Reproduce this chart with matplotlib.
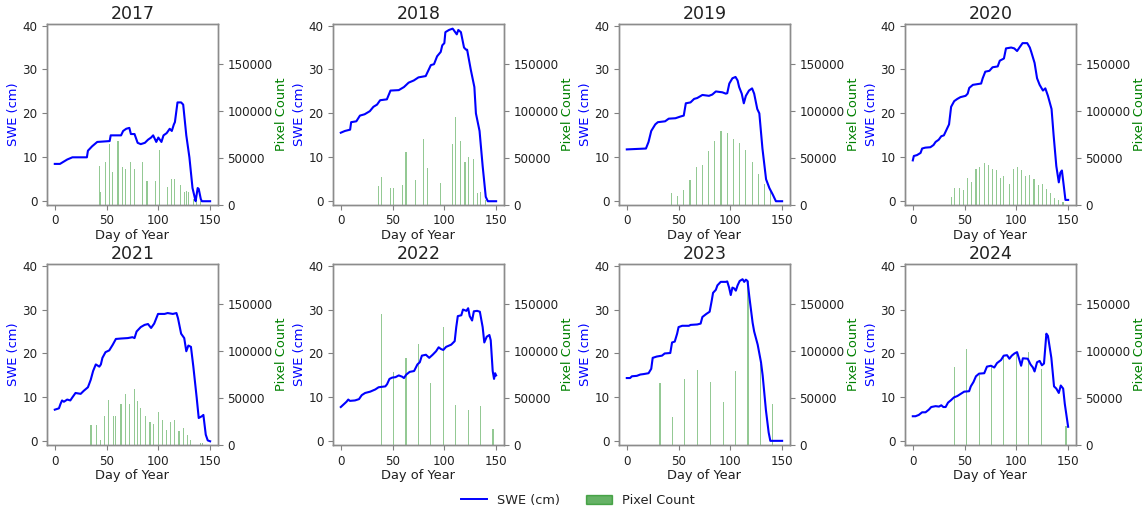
import numpy as np
import matplotlib.pyplot as plt
from matplotlib.lines import Line2D
from matplotlib.patches import Patch

years = [2017, 2018, 2019, 2020, 2021, 2022, 2023, 2024]

# --- SWE (cm) by day of year ---
days_2017 = [0, 5, 12, 17, 31, 32, 36, 41, 53, 54, 64, 66, 69, 72, 73.5, 77, 80, 83, 87, 90, 93, 95, 97, 98, 100,
             103, 105, 108, 111, 113, 115, 116, 118.5, 122, 124, 127, 130, 133, 135, 136, 138, 139, 141, 142, 150]
swe_2017 = [8.5, 8.5, 9.5, 10, 10, 11.5, 12.5, 13.5, 13.7, 15, 15, 16, 16.5, 16.7, 15.3, 15.3, 13.3, 13, 13.3, 14,
            14.5, 15, 14, 13.5, 14.5, 13.5, 15, 15.5, 16.5, 16, 17.5, 18, 22.5, 22.5, 22, 15, 10, 3, 1, 0, 3, 2.8,
            0.5, 0, 0]

days_2018 = [0, 4, 9, 10, 15, 18.5, 23, 28, 31.5, 35, 38, 44.5, 48, 56, 61, 65.5, 70.5, 75, 82, 87, 90, 93, 96.5,
             98, 100, 101, 104.5, 108, 109, 112, 113.5, 116, 119, 121, 122, 125.5, 129, 130.5, 134, 137, 140, 142,
             150]
swe_2018 = [15.6, 16, 16.3, 18, 18.2, 19.5, 19.8, 20.5, 21.5, 22, 23, 23.2, 25.2, 25.3, 26, 27, 27.5, 28.2, 28.5,
            31, 31.2, 33, 34, 35.5, 36, 38.5, 39, 39.3, 39, 38, 39, 38.5, 35, 34.5, 34.5, 30, 26, 20, 16, 8, 1, 0, 0]

days_2019 = [0, 18.5, 21, 23.6, 27.5, 30, 37, 40.5, 47, 52, 55, 57, 61.5, 65, 68, 73, 79.4, 82.6, 86, 92.3, 95.6,
             97, 99, 102, 105, 107, 108.5, 111, 113, 115, 118, 121, 123, 126, 128, 131, 134.5, 137.7, 141, 144, 150]
swe_2019 = [11.8, 12, 13.5, 16, 17.5, 18, 18.2, 18.8, 18.9, 19.3, 19.5, 22.3, 22.5, 23.3, 23.5, 24.2, 24, 24.3, 25,
            24.8, 24.5, 24.6, 26.8, 28, 28.3, 27.5, 26, 24.5, 22.3, 24, 25.2, 25.7, 24.5, 21, 20, 12, 5, 3, 1.5, 0, 0]

days_2020 = [0, 1, 4, 7.5, 9, 12, 17, 20, 22, 25, 27.5, 30, 33, 35, 37, 40, 43, 46, 51, 53, 54.5, 58, 66, 67.5, 70,
             74, 77, 82, 84, 88, 90, 95, 98, 100.7, 103, 106, 110.5, 113, 114.4, 117.6, 120, 122.5, 125.7, 128,
             130.5, 134, 136, 138.6, 141, 142.5, 144, 145.8, 147.4, 150]
swe_2020 = [9.3, 10.3, 10.5, 11, 12, 12.2, 12.3, 12.8, 13.5, 14, 14.8, 15, 16.5, 17.5, 21.5, 22.8, 23.3, 23.7, 24,
            24.5, 25.8, 26.5, 26.8, 28, 29.5, 29.7, 30.5, 30.7, 32, 32.5, 34.8, 35, 34.8, 34.2, 35, 36, 36, 35, 34,
            31.5, 28, 26.5, 25.2, 25.7, 24, 21, 15, 8, 4.3, 6.5, 7, 3.5, 0.3, 0.3]

days_2021 = [0, 4, 5.5, 7, 8.8, 12, 15, 17, 20, 25, 28, 32, 34.7, 37, 39.6, 43, 44.5, 46, 49, 52.6, 56, 59, 64, 70.5,
             75, 77, 79, 83, 86.7, 90, 93, 96, 99.7, 106, 109, 114, 117.5, 119, 122, 125, 127, 129, 131.5, 133.8,
             137, 139, 142, 143.5, 145.8, 147.7, 150]
swe_2021 = [7.2, 7.5, 8.5, 9.3, 9, 9.5, 9.3, 10, 11, 10.8, 11.5, 12.3, 14, 16, 17.5, 17, 17.5, 19, 20.3, 20.7, 22,
            23.3, 23.4, 23.5, 23.7, 23.5, 25, 26, 26.5, 26.7, 25.8, 26.8, 29, 29, 29.2, 29, 29.2, 28, 24.5, 23.5,
            20.5, 21.8, 21.5, 17, 10, 5.3, 5.7, 6, 1.5, 0.2, 0]

days_2022 = [0, 2.3, 5.5, 7.2, 8.8, 13.7, 17.6, 20.2, 23.5, 28.4, 33.3, 36.5, 43, 44.7, 47, 49.6, 52.8, 56, 59.3, 61,
             63.3, 66.5, 70.8, 74, 76.3, 78.3, 82.2, 85.4, 88.7, 92, 94.5, 96.8, 99, 101.7, 106.6, 110, 111.5, 113,
             116.4, 118, 121.3, 123, 124.5, 126.8, 128.5, 131.7, 134.3, 137, 138.6, 140.9, 143.5, 144.8, 146.7, 148,
             149, 150]
swe_2022 = [7.8, 8.3, 9, 9.5, 9.2, 9.3, 9.6, 10.5, 11, 11.3, 11.8, 12.3, 12.5, 13, 14.2, 14.5, 14.6, 15, 14.7, 14.4,
            15.2, 15.8, 16, 17.5, 18, 19.5, 19.7, 19, 19.7, 20.5, 21.4, 21, 20.8, 21.5, 22, 22.8, 26, 28.5, 28.7, 30,
            29.7, 30.3, 28.5, 27.5, 29.6, 29.7, 29.5, 26, 22.5, 23.8, 24.2, 23, 16, 14.2, 15.5, 15]

days_2023 = [0, 3.2, 4.9, 9.7, 13, 16.2, 21, 23.6, 25, 29, 34, 36.6, 42, 43.7, 46.3, 48.6, 50, 53.5, 60, 61.6, 68,
             71.3, 73, 76.8, 80, 82, 83.3, 86, 87.5, 90.7, 95.6, 97, 98.8, 100.4, 102, 103.7, 105.3, 107, 109, 111.8,
             113.4, 115, 116.6, 118.3, 121.5, 123, 126.4, 129.6, 131.2, 134.4, 137, 138.6, 150]
swe_2023 = [14.4, 14.4, 14.8, 14.9, 15.2, 15.3, 15.5, 16.5, 19, 19.3, 19.5, 20, 20.1, 22.5, 22.7, 24.5, 26, 26.3,
            26.3, 26.5, 26.6, 26.8, 28.3, 29, 29.5, 32, 33.8, 34.5, 35.5, 36.3, 36.3, 36.4, 35, 33.3, 35, 34.8, 34.3,
            35.5, 36.5, 36.9, 36.3, 36.8, 36.5, 33, 27, 25, 22, 18, 15, 7, 2, 0.1, 0.1]

days_2024 = [0, 2.6, 5.8, 9, 12.3, 15.5, 17.8, 22, 25.3, 27.5, 29.5, 31.7, 34, 36.6, 39.8, 43, 46.3, 49.6, 54.4, 56,
             58.6, 61, 64, 69, 71.6, 75.5, 78.7, 81.3, 85.2, 87.8, 91, 93.3, 95.6, 98.2, 100.7, 103, 104.6, 106.3,
             111, 113.7, 116, 117.6, 120, 122.5, 124.7, 126.7, 129, 130.5, 133.8, 136.4, 138.6, 141, 142.9, 145.2,
             146.8, 150]
swe_2024 = [5.7, 5.7, 6, 6.6, 6.6, 7.2, 7.8, 8, 7.9, 8.2, 7.8, 7.8, 8.8, 9.3, 10, 10.3, 10.8, 11.3, 11.4, 12.5, 13.5,
            14.8, 15.4, 15.5, 17, 17.2, 16.8, 17.8, 18.5, 19.5, 19.6, 18.8, 19.5, 20, 20.3, 18.5, 17.2, 18.9, 18.8,
            17.5, 16.8, 15.9, 18, 18.3, 17.3, 17.7, 24.5, 24, 19, 12.5, 12, 11, 12.7, 12, 8.5, 3.3]

# --- Pixel counts per acquisition day ---
bar_days_2017 = [43, 44, 49, 53, 56, 61, 65, 68, 73, 77, 85, 89, 97, 101, 109, 113, 116, 121, 125, 127, 129, 134,
                 137, 141]
counts_2017 = [41000, 14000, 45000, 65000, 35000, 68000, 40000, 38000, 45000, 38500, 45700, 25000, 25700, 58000,
               19000, 27000, 27000, 20700, 13500, 14600, 14000, 6400, 5000, 3500]

bar_days_2018 = [36, 39, 48, 51, 60, 63, 72, 80, 84, 96, 108, 111, 116, 120, 123, 128, 132, 135, 140]
counts_2018 = [20000, 29600, 17800, 17500, 21400, 56000, 26800, 70300, 39300, 23200, 64300, 93000, 67500, 45300,
               51000, 49000, 12500, 13200, 5000]

bar_days_2019 = [43, 49, 55, 61, 67, 73, 79, 85, 91, 97, 103, 109, 115, 121, 127, 133, 139]
counts_2019 = [12500, 9000, 16000, 26800, 40000, 42000, 57000, 68000, 78500, 76000, 70300, 66000, 58000, 45700,
               33200, 22500, 15300]

bar_days_2020 = [37, 40, 45, 49, 53, 57, 61, 64, 69, 73, 77, 81, 85, 88, 93, 97, 101, 105, 109, 113, 117, 121, 125,
                 129, 133, 137, 141, 145]
counts_2020 = [8200, 17800, 17800, 16000, 28500, 24000, 37500, 40300, 44600, 41800, 37500, 36800, 28500, 30300,
               22100, 37500, 40300, 36800, 30300, 32100, 27500, 21400, 22100, 16800, 12500, 7000, 5300, 2500]

bar_days_2021 = [35, 40, 44, 48, 52, 57, 59, 64, 68, 72, 77, 80, 83, 88, 92, 95, 100, 104, 108, 112, 116, 120, 124,
                 128, 131, 141, 143]
counts_2021 = [21400, 20700, 5300, 31000, 47500, 30300, 31000, 43900, 54300, 43500, 59600, 46400, 38600, 31000,
               24300, 22100, 34600, 26800, 15300, 23900, 26000, 14300, 17800, 10700, 4600, 2100, 2100]

bar_days_2022 = [39, 51, 63, 75, 87, 99, 111, 123, 135, 147]
counts_2022 = [139000, 77500, 92800, 107000, 65300, 125000, 42800, 37500, 41000, 16800]

bar_days_2023 = [32, 44, 56, 68, 81, 93, 105, 117, 129, 141]
counts_2023 = [66000, 29600, 70300, 79600, 66800, 45700, 78500, 174500, 86400, 43500]

bar_days_2024 = [40, 52, 64, 76, 88, 100, 112, 124, 148]
counts_2024 = [83200, 101700, 73900, 83900, 94600, 98000, 99000, 80300, 19600]

swe_series = [(days_2017, swe_2017), (days_2018, swe_2018), (days_2019, swe_2019), (days_2020, swe_2020),
              (days_2021, swe_2021), (days_2022, swe_2022), (days_2023, swe_2023), (days_2024, swe_2024)]
bar_series = [(bar_days_2017, counts_2017), (bar_days_2018, counts_2018), (bar_days_2019, counts_2019),
              (bar_days_2020, counts_2020), (bar_days_2021, counts_2021), (bar_days_2022, counts_2022),
              (bar_days_2023, counts_2023), (bar_days_2024, counts_2024)]

max_count = max(max(c) for _, c in bar_series)

plt.rcParams['text.color'] = '0.13'
plt.rcParams['axes.labelcolor'] = '0.13'

fig, axes = plt.subplots(2, 4, figsize=(11.47, 5.16), dpi=100)
fig.subplots_adjust(left=0.041, right=0.938, bottom=0.138, top=0.953, wspace=0.674, hspace=0.33)

for ax, year, (d, s), (bd, bc) in zip(axes.flat, years, swe_series, bar_series):
    ax2 = ax.twinx()
    ax2.bar(bd, bc, width=1.1, color='green', alpha=0.42, lw=0, zorder=1)
    ax2.set_ylim(0, max_count * 1.1)
    ax2.set_yticks([0, 50000, 100000, 150000])
    ax2.set_ylabel('Pixel Count', color='green', fontsize=9.4, labelpad=1.5)
    ax2.tick_params(labelsize=8.6, color='0.5', labelcolor='0.13')

    ax.plot(d, s, color='blue', lw=1.5)
    ax.set_zorder(ax2.get_zorder() + 1)
    ax.patch.set_visible(False)
    ax.set_ylim(-0.8, 40.3)
    ax.set_yticks([0, 10, 20, 30, 40])
    ax.set_xticks([0, 50, 100, 150])
    ax.set_ylabel('SWE (cm)', color='blue', fontsize=9.4, labelpad=1.5)
    ax.set_xlabel('Day of Year', fontsize=9.4, labelpad=1)
    ax.set_title(str(year), fontsize=12.5, pad=4)
    ax.tick_params(labelsize=8.6, color='0.5', labelcolor='0.13')
    for a in (ax, ax2):
        for sp in a.spines.values():
            sp.set_color('0.55')
            sp.set_linewidth(1.0)

handles = [Line2D([0], [0], color='blue', lw=1.4), Patch(color='green', alpha=0.6)]
fig.legend(handles, ['SWE (cm)', 'Pixel Count'], loc='lower center', bbox_to_anchor=(0.504, -0.005),
           ncol=2, frameon=False, fontsize=9.3)

fig.savefig('out.png', dpi=100)
